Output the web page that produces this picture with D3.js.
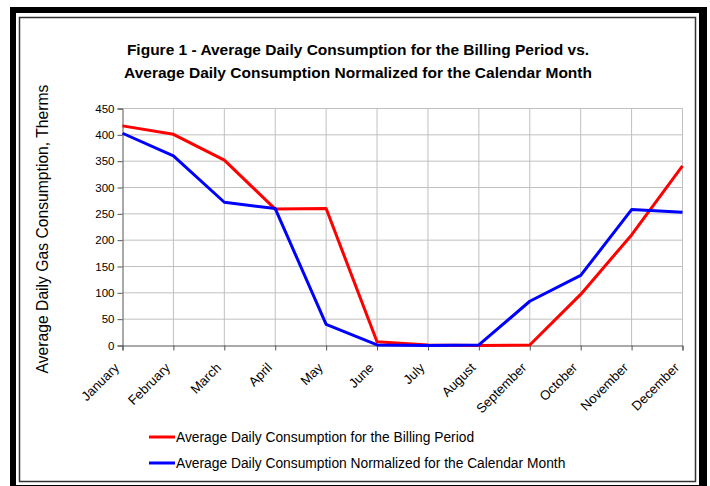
<!DOCTYPE html>
<html>
<head>
<meta charset="utf-8">
<script src="https://cdn.jsdelivr.net/npm/d3@7"></script>
<style>
  html, body { margin: 0; padding: 0; background: #fff; }
  svg { display: block; font-family: "Liberation Sans", Arial, sans-serif; }
</style>
</head>
<body>
<svg id="chart" width="710" height="486"></svg>
<script>
const months = ["January","February","March","April","May","June","July","August","September","October","November","December"];
const billing = [417, 401, 352, 259, 260, 7, 1, 0, 1, 97, 210, 341];
const normalized = [403, 360, 272, 260, 40, 1, 0, 1, 84, 133, 258, 253];
const yTicks = [0, 50, 100, 150, 200, 250, 300, 350, 400, 450];
const seriesNames = ["Average Daily Consumption for the Billing Period", "Average Daily Consumption Normalized for the Calendar Month"];
const seriesColors = ["#ff0000", "#0000ff"];
const titleLines = ["Figure 1 - Average Daily Consumption for the Billing Period vs.", "Average Daily Consumption Normalized for the Calendar Month"];
const yTitle = "Average Daily Gas Consumption, Therms";

const svg = d3.select("#chart");
const FONT = "'Liberation Sans', Arial, sans-serif";

// Frame with shadow
svg.append("rect").attr("x", 10).attr("y", 7).attr("width", 697).attr("height", 486).attr("fill", "#000");
svg.append("rect").attr("x", 16).attr("y", 13).attr("width", 683).attr("height", 472).attr("fill", "#fff");
svg.append("rect").attr("x", 19.5).attr("y", 17.5).attr("width", 676).attr("height", 464)
  .attr("fill", "none").attr("stroke", "#333").attr("stroke-width", 1.5);

const x = d3.scalePoint().domain(months).range([122.5, 682.5]);
const y = d3.scaleLinear().domain([0, 450]).range([345.5, 108.5]);

const g = svg.append("g");

// gridlines
g.selectAll("line.hgrid").data(yTicks.filter(d => d > 0)).join("line")
  .attr("x1", 122.5).attr("x2", 682.5)
  .attr("y1", d => y(d)).attr("y2", d => y(d))
  .attr("stroke", "#c0c0c0").attr("stroke-width", 1);
g.selectAll("line.vgrid").data(months.slice(1)).join("line")
  .attr("x1", d => x(d)).attr("x2", d => x(d))
  .attr("y1", y(450)).attr("y2", y(0))
  .attr("stroke", "#c0c0c0").attr("stroke-width", 1);

// axes
const yAxis = d3.axisLeft(y).tickValues(yTicks).tickSize(5).tickPadding(3);
const yg = svg.append("g").attr("transform", "translate(122.5,0)").call(yAxis);
yg.select(".domain").attr("stroke", "#555");
yg.selectAll(".tick line").attr("stroke", "#555");
yg.selectAll(".tick text").attr("font-size", "11.5px").attr("fill", "#000")
  .attr("font-family", FONT);

const xAxis = d3.axisBottom(x).tickSize(5).tickPadding(4);
const xg = svg.append("g").attr("transform", "translate(0,345.5)").call(xAxis);
xg.select(".domain").attr("stroke", "#555");
xg.selectAll(".tick line").attr("stroke", "#555");
xg.selectAll(".tick text").attr("font-size", "13.2px").attr("fill", "#000")
  .attr("font-family", FONT)
  .attr("text-anchor", "end")
  .attr("y", 0).attr("x", 0).attr("dy", 0)
  .attr("transform", "translate(-3,23) rotate(-45)");

// lines
const line = d3.line().x((d, i) => x(months[i])).y(d => y(d));
[billing, normalized].forEach((s, k) => {
  svg.append("path").datum(s).attr("d", line)
    .attr("fill", "none").attr("stroke", seriesColors[k]).attr("stroke-width", 3)
    .attr("stroke-linejoin", "round");
});

// title
svg.append("g").selectAll("text").data(titleLines).join("text")
  .attr("x", 358).attr("y", (d, i) => 55 + i * 23)
  .attr("text-anchor", "middle").attr("font-size", "15.5px").attr("font-weight", "bold")
  .attr("font-family", FONT)
  .text(d => d);

// y title
svg.append("text").attr("transform", "translate(48,229) rotate(-90)")
  .attr("text-anchor", "middle").attr("font-size", "15.7px").attr("font-family", FONT).text(yTitle);

// legend
const leg = svg.append("g");
seriesNames.forEach((n, k) => {
  const ly = 437 + k * 26;
  leg.append("line").attr("x1", 149).attr("x2", 175).attr("y1", ly).attr("y2", ly)
    .attr("stroke", seriesColors[k]).attr("stroke-width", 3);
  leg.append("text").attr("x", 176).attr("y", ly + 5).attr("font-size", "13.8px")
    .attr("font-family", FONT).text(n);
});
</script>
</body>
</html>
